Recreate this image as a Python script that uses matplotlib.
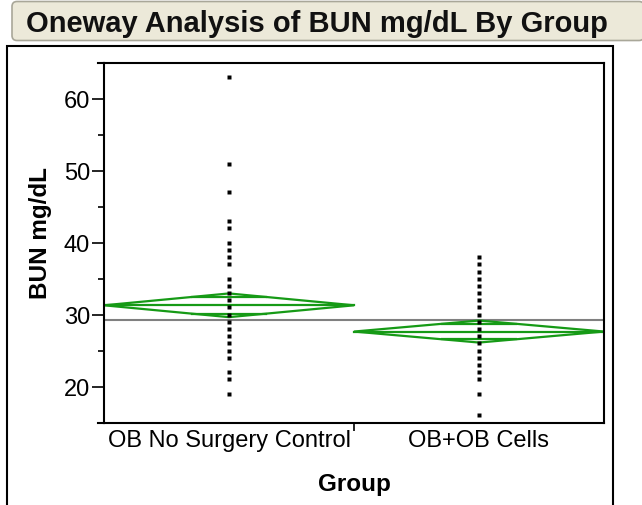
import matplotlib
matplotlib.use('Agg')
import matplotlib.pyplot as plt
from matplotlib.patches import FancyBboxPatch, Polygon
from matplotlib.ticker import FixedLocator
import numpy as np

# ---- data ----
title = "Oneway Analysis of BUN mg/dL By Group"
groups = ["OB No Surgery Control", "OB+OB Cells"]
control_values = [63, 51, 47, 43, 42, 40, 39, 38, 37, 35, 34, 33, 32, 31,
                  30, 29, 28, 27, 26, 25, 24, 22, 21, 19]
cells_values = [38, 37, 36, 35, 34, 33, 32, 31, 30, 29, 28, 27, 26, 25,
                24, 23, 22, 21, 19, 16]
group_means = [31.3, 27.65]
ci_half = [1.65, 1.53]
grand_mean = 29.3
y_major = [20, 30, 40, 50, 60]
y_minor = [25, 35, 45, 55]
y_label = "BUN mg/dL"
x_label = "Group"

plt.rcParams['font.family'] = ['Liberation Sans', 'DejaVu Sans']

W, H = 642, 506
fig = plt.figure(figsize=(W / 100, H / 100), dpi=100)

# background layer (title bar + outer frame) in pixel coordinates
bg = fig.add_axes([0, 0, 1, 1], zorder=0)
bg.set_xlim(0, W)
bg.set_ylim(H, 0)
bg.axis('off')
bar = FancyBboxPatch((12, 2.5), 632, 39, boxstyle="round,pad=0,rounding_size=5",
                     fc='#ECE9D9', ec='#A9A799', lw=1.2)
bg.add_patch(bar)
bg.text(26, 24, title, fontsize=21, fontweight='bold', va='center', ha='left',
        color='#111111')
bg.plot([7, 7, 613, 613], [H + 5, 47, 47, H + 5], color='black', lw=1.5,
        solid_joinstyle='miter')
# short extensions of the plot frame to the left of the y axis
bg.plot([98, 104], [64, 64], color='black', lw=1.5)
bg.plot([98, 104], [423.5, 423.5], color='black', lw=1.5)

# main plot
ax = fig.add_axes([104 / W, 1 - 423.5 / H, 500 / W, 359.5 / H], zorder=1)
ax.set_xlim(-0.5, 1.5)
ax.set_ylim(15, 65)

green = '#169A16'
ax.axhline(grand_mean, color='#808080', lw=1.5, zorder=1)

for i, (m, h) in enumerate(zip(group_means, ci_half)):
    diamond = Polygon([(i - 0.5, m), (i, m + h), (i + 0.5, m), (i, m - h)],
                      closed=True, fill=False, ec=green, lw=1.6, zorder=2)
    ax.add_patch(diamond)
    ax.plot([i - 0.5, i + 0.5], [m, m], color=green, lw=1.6, zorder=2)
    ov = h / np.sqrt(2)
    hw = 0.5 * (1 - ov / h)
    for s in (1, -1):
        ax.plot([i - hw, i + hw], [m + s * ov, m + s * ov], color=green, lw=1.6, zorder=2)

for i, vals in enumerate([control_values, cells_values]):
    ax.plot([i] * len(vals), vals, ls='none', marker='s', ms=2.9, color='black',
            mec='none', zorder=3)

ax.yaxis.set_major_locator(FixedLocator(y_major))
ax.yaxis.set_minor_locator(FixedLocator(y_minor))
ax.set_xticks([0, 1])
ax.set_xticklabels(groups)
ax.xaxis.set_minor_locator(FixedLocator([0.5]))

ax.tick_params(axis='y', which='major', length=8.5, width=1.2, labelsize=17, pad=1.5)
ax.tick_params(axis='y', which='minor', length=4.3, width=1.2)
ax.tick_params(axis='x', which='major', length=0, labelsize=17, pad=5)
ax.tick_params(axis='x', which='minor', length=6, width=1.2)

for sp in ax.spines.values():
    sp.set_linewidth(1.5)

ax.set_ylabel(y_label, fontsize=17.5, fontweight='bold')
ax.yaxis.set_label_coords(-0.103, 0.53)
ax.set_xlabel(x_label, fontsize=17.5, fontweight='bold')
ax.xaxis.set_label_coords(0.5, -0.139)

fig.savefig('out.png', dpi=100)
